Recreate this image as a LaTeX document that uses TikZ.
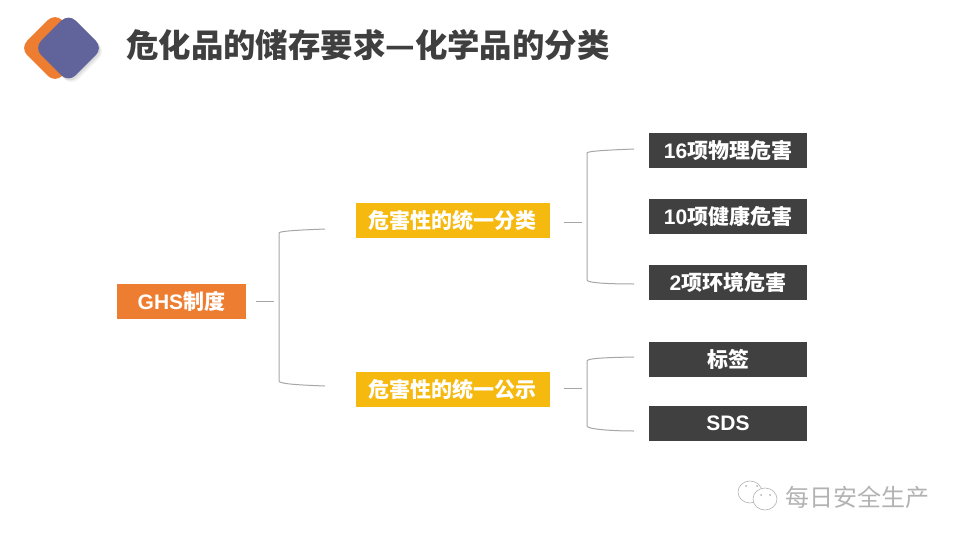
\documentclass[tikz,border=0pt]{standalone}
\usepackage{fontspec}
\setmainfont{Liberation Sans}
\newfontfamily\cjk{Noto Sans CJK SC}
\definecolor{orangeb}{HTML}{ED7D31}
\definecolor{purpleb}{HTML}{60649A}
\definecolor{yellowb}{HTML}{F5B90F}
\definecolor{darkb}{HTML}{404040}
\definecolor{titlec}{HTML}{3F3F3F}
\definecolor{linec}{HTML}{A6A6A6}
\tikzset{
  rootbox/.style={fill=orangeb,text=white,minimum width=129pt,minimum height=35pt,inner sep=0pt,font=\fontsize{21}{21}\selectfont\bfseries\cjk},
  midbox/.style={fill=yellowb,text=white,minimum width=194pt,minimum height=35pt,inner sep=0pt,font=\fontsize{21}{21}\selectfont\bfseries\cjk},
  leafbox/.style={fill=darkb,text=white,minimum width=158pt,minimum height=35pt,inner sep=0pt,font=\fontsize{21}{21}\selectfont\bfseries\cjk},
  brace/.style={draw=linec,line width=1pt},
}
\begin{document}
\begin{tikzpicture}[x=1pt,y=-1pt]
\useasboundingbox (0,0) rectangle (960,540);
% logo
\fill[gray,opacity=0.12,rounded corners=10pt] (37,51.5) -- (71.5,17) -- (106,51.5) -- (71.5,86) -- cycle;
\fill[gray,opacity=0.18,rounded corners=10pt] (35.5,50) -- (70,15.5) -- (104.5,50) -- (70,84.5) -- cycle;
\fill[orangeb,rounded corners=10pt] (20,48) -- (55,13) -- (90,48) -- (55,83) -- cycle;
\fill[purpleb,rounded corners=10pt] (34,48) -- (68.5,13.5) -- (103,48) -- (68.5,82.5) -- cycle;
\node[text=titlec,anchor=west,inner sep=0pt,font=\fontsize{32.4}{33}\selectfont\bfseries\cjk] (title) at (126,45) {危化品的储存要求—化学品的分类};

\node[rootbox] (ghs) at (181.5,301) {{\rmfamily\bfseries GHS}制度};
\node[midbox] (fenlei) at (452.5,220) {危害性的统一分类};
\node[midbox] (gongshi) at (452.5,389) {危害性的统一公示};
\node[leafbox] (wuli) at (728,150.5) {{\rmfamily\bfseries 16}项物理危害};
\node[leafbox] (jiankang) at (728,216.5) {{\rmfamily\bfseries 10}项健康危害};
\node[leafbox] (huanjing) at (728,282) {{\rmfamily\bfseries 2}项环境危害};
\node[leafbox] (biaoqian) at (728,359.5) {标签};
\node[leafbox] (sds) at (728,423) {{\rmfamily\bfseries SDS}};

% brackets
\coordinate (b1) at (325,229); \coordinate (b2) at (325,386);
\coordinate (b3) at (634,149); \coordinate (b4) at (634,284);
\coordinate (b5) at (634,357); \coordinate (b6) at (634,431);
\draw[brace] ([xshift=10pt]ghs.east) -- ++(18,0);
\draw[brace] (b1) .. controls (300,230) and (279,231) .. (279,233) -- (279,381) .. controls (279,384) and (300,385) .. (b2);
\draw[brace] ([xshift=14pt,yshift=-2pt]fenlei.east) -- ++(18,0);
\draw[brace] (b3) .. controls (610,150) and (587,151) .. (587,153) -- (587,280) .. controls (587,283) and (610,284) .. (b4);
\draw[brace] ([xshift=14pt,yshift=1pt]gongshi.east) -- ++(18,0);
\draw[brace] (b5) .. controls (610,357.5) and (587,358) .. (587,361) -- (587,426) .. controls (587,429) and (610,431) .. (b6);

% watermark
\draw[gray!60,line width=0.6pt] (750,492) ellipse (12 and 11);
\draw[gray!60,line width=0.6pt,fill=white] (765,499) ellipse (12 and 11);
\fill[gray!60] (746,486) circle (1) (757,486) circle (1) (761,495) circle (1) (770,495) circle (1);
\node[text=gray!60,anchor=west,inner sep=0pt,font=\fontsize{24}{24}\selectfont\cjk] (mark) at (785,497) {每日安全生产};
\end{tikzpicture}
\end{document}
